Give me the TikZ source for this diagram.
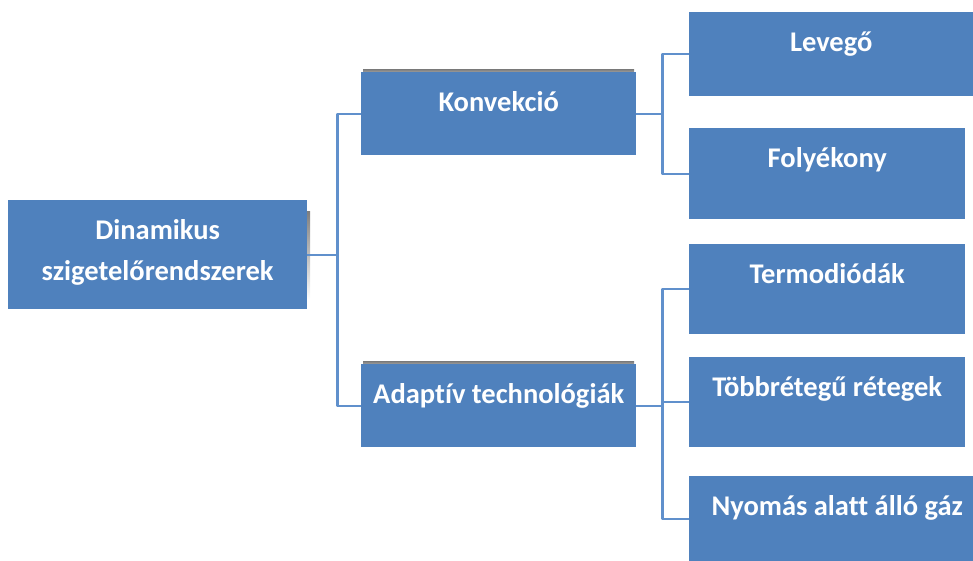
\documentclass[tikz,border=0pt]{standalone}
\usepackage{fontspec}
\setmainfont{Carlito}[Ligatures=NoCommon]
\definecolor{boxblue}{RGB}{79,129,189}
\definecolor{linkblue}{RGB}{96,144,204}
\definecolor{shade}{RGB}{205,205,205}
\tikzset{
  box/.style={fill=boxblue, text=white, inner sep=0pt, align=center,
    anchor=north west, text height=39pt},
  link/.style={draw=linkblue, line width=2.2pt}
}
\begin{document}
\begin{tikzpicture}[x=1pt, y=-1pt, font=\fontsize{28.5}{41}\selectfont\bfseries, line join=round, line cap=butt]
  \useasboundingbox (0,0) rectangle (973,561);
  % faint shadows
  \fill[shade] (300,212) rectangle (310,300);
  \fill[shade] (363,69.5) rectangle (634,80);
  \fill[shade] (363,361.5) rectangle (634,372);
  % root and middle level
  \node[box, minimum width=299pt, text height=80pt, text depth=29pt] (root) at (8,200) {Dinamikus\\szigetelőrendszerek};
  \node[box, minimum width=275pt, text depth=44pt] (konv) at (361,72) {Konvekció};
  \node[box, minimum width=275pt, text depth=44pt] (adapt) at (361,364) {Adaptív technológiák};
  % leaves
  \node[box, minimum width=284pt, text depth=45pt] (lev) at (689,12) {Levegő};
  \node[box, minimum width=276pt, text depth=52pt] (foly) at (689,128) {Folyékony};
  \node[box, minimum width=276pt, text depth=51pt] (termo) at (689,244) {Termodiódák};
  \node[box, minimum width=276pt, text depth=51pt] (tobb) at (689,357) {Többrétegű rétegek};
  \node[box, minimum width=296pt, text depth=47pt] (nyom) at (689,476) {Nyomás alatt álló gáz};
  % connectors
  \draw[link] (root.east) -- ++(30,0) |- (konv.west);
  \draw[link] (root.east) -- ++(30,0) |- (adapt.west);
  \foreach \leaf in {lev,foly}
    \draw[link] (konv.east) -- ++(26,0) |- (\leaf.west);
  \foreach \leaf in {termo,tobb,nyom}
    \draw[link] (adapt.east) -- ++(26,0) |- (\leaf.west);
\end{tikzpicture}
\end{document}
